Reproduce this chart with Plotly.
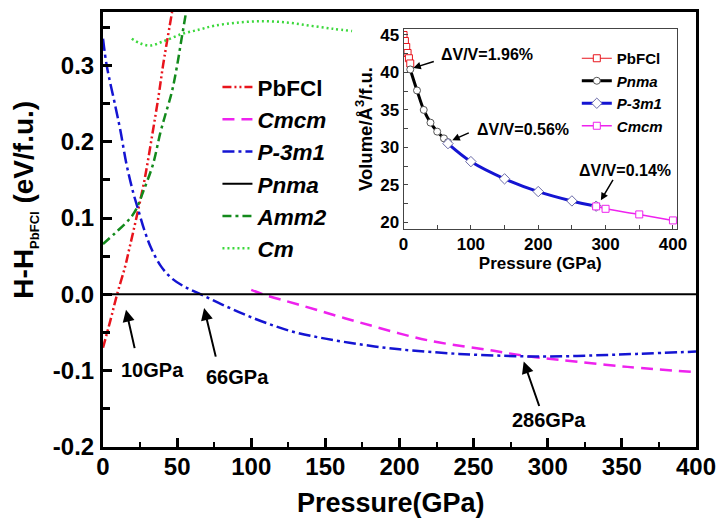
import plotly.graph_objects as go

# ---------------- main panel data (enthalpy difference vs pressure) ----------------
P_PbFCl = [0, 5, 9.5, 15, 18, 22.5, 28, 33.3, 37.5, 40.5, 46.6]
H_PbFCl = [-0.07, -0.034, 0.0, 0.037, 0.062, 0.100, 0.150, 0.210, 0.260, 0.300, 0.370]

P_Cmcm = [100, 108, 133, 173.6, 218.7, 263.7, 286, 308.8, 353.8, 400]
H_Cmcm = [0.006, 0.0, -0.014, -0.037, -0.060, -0.074, -0.081, -0.086, -0.095, -0.102]

P_P3m1 = [0, 2.5, 8.5, 11.7, 15.8, 20.3, 23.6, 28.1, 32.6, 39.4, 46.4, 55, 66, 80, 95,
          110.8, 130, 150, 175, 200, 240, 280, 300, 330, 360, 400]
H_P3m1 = [0.335, 0.300, 0.245, 0.215, 0.171, 0.134, 0.112, 0.083, 0.060, 0.036, 0.021, 0.010,
          0.000, -0.013, -0.026, -0.038, -0.050, -0.058, -0.066, -0.072, -0.078, -0.081,
          -0.0815, -0.080, -0.078, -0.075]

P_Pnma = [0, 400]
H_Pnma = [0.0, 0.0]

P_Amm2 = [0, 8, 18, 22.5, 27, 33.8, 38.7, 42, 46.4, 50, 53, 56.5]
H_Amm2 = [0.066, 0.080, 0.099, 0.112, 0.134, 0.171, 0.212, 0.235, 0.265, 0.300, 0.335, 0.375]

P_Cm = [19.4, 25, 31.8, 40, 53, 65, 75, 90, 108, 125, 140, 155, 168]
H_Cm = [0.335, 0.329, 0.326, 0.331, 0.341, 0.347, 0.352, 0.356, 0.358, 0.356, 0.352, 0.348, 0.345]

x_tickvals = [0, 50, 100, 150, 200, 250, 300, 350, 400]
x_ticktext = ["0", "50", "100", "150", "200", "250", "300", "350", "400"]
y_tickvals = [-0.2, -0.1, 0.0, 0.1, 0.2, 0.3]
y_ticktext = ["-0.2", "-0.1", "0.0", "0.1", "0.2", "0.3"]

# ---------------- inset data (volume vs pressure) ----------------
VP_PbFCl = [0, 2, 4, 6, 8, 10]
V_PbFCl = [45.0, 44.2, 43.4, 42.6, 41.9, 41.2]
VP_Pnma = [10, 20, 30, 40, 50, 60, 66]
V_Pnma = [40.4, 37.6, 35.0, 33.3, 32.1, 31.2, 30.7]
VP_P3m1 = [66, 100, 150, 200, 250, 286]
V_P3m1 = [30.5, 28.1, 25.8, 24.1, 22.85, 22.15]
VP_Cmcm = [286, 300, 350, 400]
V_Cmcm = [22.12, 21.8, 21.05, 20.25]

inset_x_tickvals = [0, 100, 200, 300, 400]
inset_y_tickvals = [20, 25, 30, 35, 40, 45]

FONT = "Arial, Liberation Sans, sans-serif"
RED = "#e8141c"
MAG = "#ee22ee"
BLUE = "#1414d2"
GREEN = "#138a1c"
LGREEN = "#3cd83c"

fig = go.Figure()

# main traces (legend order as in reference)
fig.add_trace(go.Scatter(x=P_PbFCl, y=H_PbFCl, mode="lines", name="<b>PbFCl</b>",
                         line=dict(color=RED, width=2.5, dash="9px,3px,2px,3px,2px,3px", shape="spline")))
fig.add_trace(go.Scatter(x=P_Cmcm, y=H_Cmcm, mode="lines", name="<b><i>Cmcm</i></b>",
                         line=dict(color=MAG, width=2.5, dash="12px,7px", shape="spline")))
fig.add_trace(go.Scatter(x=P_P3m1, y=H_P3m1, mode="lines", name="<b><i>P-3m1</i></b>",
                         line=dict(color=BLUE, width=2.5, dash="12px,4px,3px,4px", shape="spline")))
fig.add_trace(go.Scatter(x=P_Pnma, y=H_Pnma, mode="lines", name="<b><i>Pnma</i></b>",
                         line=dict(color="black", width=2)))
fig.add_trace(go.Scatter(x=P_Amm2, y=H_Amm2, mode="lines", name="<b><i>Amm2</i></b>",
                         line=dict(color=GREEN, width=2.5, dash="9px,4px,3px,4px", shape="spline")))
fig.add_trace(go.Scatter(x=P_Cm, y=H_Cm, mode="lines", name="<b><i>Cm</i></b>",
                         line=dict(color=LGREEN, width=2.5, dash="2px,3px", shape="spline")))

# inset traces
fig.add_trace(go.Scatter(x=VP_PbFCl, y=V_PbFCl, mode="lines+markers", name="<b>PbFCl</b>",
                         xaxis="x2", yaxis="y2", legend="legend2",
                         line=dict(color=RED, width=1),
                         marker=dict(symbol="square", size=7, color="white", line=dict(color=RED, width=1))))
fig.add_trace(go.Scatter(x=VP_Pnma, y=V_Pnma, mode="lines+markers", name="<b><i>Pnma</i></b>",
                         xaxis="x2", yaxis="y2", legend="legend2",
                         line=dict(color="black", width=3, shape="spline"),
                         marker=dict(symbol="circle", size=7, color="white", line=dict(color="#555555", width=1))))
fig.add_trace(go.Scatter(x=VP_P3m1, y=V_P3m1, mode="lines+markers", name="<b><i>P-3m1</i></b>",
                         xaxis="x2", yaxis="y2", legend="legend2",
                         line=dict(color=BLUE, width=3, shape="spline"),
                         marker=dict(symbol="diamond", size=8, color="white", line=dict(color="#6a6aa8", width=1))))
fig.add_trace(go.Scatter(x=VP_Cmcm, y=V_Cmcm, mode="lines+markers", name="<b><i>Cmcm</i></b>",
                         xaxis="x2", yaxis="y2", legend="legend2",
                         line=dict(color=MAG, width=1.5, shape="spline"),
                         marker=dict(symbol="square", size=7, color="white", line=dict(color=MAG, width=1))))

main_axis_common = dict(showline=True, linecolor="black", linewidth=3, mirror=True,
                        showgrid=False, zeroline=False, ticks="inside", ticklen=9,
                        tickwidth=2.5, tickcolor="black", automargin=False,
                        tickfont=dict(family=FONT, size=24, color="black", weight="bold"))

fig.update_layout(
    width=719, height=518,
    margin=dict(l=103, r=23, t=12, b=71, autoexpand=False),
    paper_bgcolor="white", plot_bgcolor="white",
    font=dict(family=FONT, color="black"),
    xaxis=dict(range=[0, 400], tickmode="array", tickvals=x_tickvals, ticktext=x_ticktext,
               ticklabelstandoff=-4,
               minor=dict(ticks="inside", tickmode="linear", tick0=0, dtick=25, ticklen=5,
                          tickwidth=2, tickcolor="black"),
               **main_axis_common),
    yaxis=dict(range=[-0.2, 0.37], tickmode="array", tickvals=y_tickvals, ticktext=y_ticktext,
               ticklabelstandoff=1,
               minor=dict(ticks="inside", tickmode="linear", tick0=0, dtick=0.05, ticklen=7,
                          tickwidth=2.5, tickcolor="black"),
               **main_axis_common),
    xaxis2=dict(domain=[0.5068, 0.9679], anchor="y2", range=[0, 406], automargin=False,
                tickmode="array", tickvals=inset_x_tickvals,
                showline=True, linecolor="#444444", linewidth=1, mirror=True,
                showgrid=False, zeroline=False, ticks="inside", ticklen=4, tickcolor="#444444",
                minor=dict(ticks="inside", tickmode="linear", tick0=0, dtick=50, ticklen=4,
                           tickcolor="#444444"),
                tickfont=dict(family=FONT, size=17, color="black", weight="bold"),
                title=dict(text="<b>Pressure (GPa)</b>", standoff=0,
                           font=dict(family=FONT, size=17, color="black"))),
    yaxis2=dict(domain=[0.5011, 0.9609], anchor="x2", range=[19.1, 45.8], automargin=False,
                tickmode="array", tickvals=inset_y_tickvals,
                showline=True, linecolor="#444444", linewidth=1, mirror=True,
                showgrid=False, zeroline=False, ticks="inside", ticklen=4, tickcolor="#444444",
                minor=dict(ticks="inside", tickmode="linear", tick0=20, dtick=2.5, ticklen=4,
                           tickcolor="#444444"),
                tickfont=dict(family=FONT, size=17, color="black", weight="bold"),
                title=dict(text="<b>Volume/Å<sup>3</sup>/f.u.</b>", standoff=2,
                           font=dict(family=FONT, size=18.5, color="black"))),
    legend=dict(x=0.193, y=0.876, xanchor="left", yanchor="top", bgcolor="rgba(0,0,0,0)",
                font=dict(family=FONT, size=22.5, color="black"), tracegroupgap=0),
    legend2=dict(x=0.799, y=0.931, xanchor="left", yanchor="top", bgcolor="rgba(0,0,0,0)",
                 font=dict(family=FONT, size=15, color="black"), tracegroupgap=0),
    showlegend=True,
)

annots = []
# axis titles of main panel
annots.append(dict(text="<b>Pressure(GPa)</b>", xref="paper", yref="paper", x=0.485, y=-0.1287,
                   xanchor="center", yanchor="middle",
                   showarrow=False, font=dict(family=FONT, size=27, color="black")))
annots.append(dict(text="<b>H-H<sub><span style='font-size:13px'>PbFCl</span></sub> (eV/f.u.)</b>",
                   xref="paper", yref="paper", x=-0.132, y=0.568, textangle=-90,
                   xanchor="center", yanchor="middle",
                   showarrow=False, font=dict(family=FONT, size=28, color="black")))

# transition labels (main)
labels_main = [("<b>10GPa</b>", 33.1, -0.099, 15.5, -0.020, 9, 40),
               ("<b>66GPa</b>", 90.5, -0.108, 68.2, -0.018, 12, 50),
               ("<b>286GPa</b>", 300.7, -0.165, 283.8, -0.088, 16, 46)]
for txt, tx, ty, hx, hy, ax, ay in labels_main:
    annots.append(dict(text=txt, x=tx, y=ty, xref="x", yref="y", showarrow=False,
                       font=dict(family=FONT, size=20, color="black")))
    annots.append(dict(text="", x=hx, y=hy, xref="x", yref="y", showarrow=True, ax=ax, ay=ay,
                       arrowhead=2, arrowsize=1.2, arrowwidth=2, arrowcolor="black"))

# volume-collapse labels (inset)
labels_inset = [("<b>ΔV/V=1.96%</b>", 124.6, 42.46, 14.5, 40.6, 22, -7),
                ("<b>ΔV/V=0.56%</b>", 176.9, 32.43, 72.4, 30.96, 18, -8),
                ("<b>ΔV/V=0.14%</b>", 328.9, 26.95, 293.0, 22.94, 13, -22)]
for txt, tx, ty, hx, hy, ax, ay in labels_inset:
    annots.append(dict(text=txt, x=tx, y=ty, xref="x2", yref="y2", showarrow=False,
                       font=dict(family=FONT, size=16, color="black")))
    annots.append(dict(text="", x=hx, y=hy, xref="x2", yref="y2", showarrow=True, ax=ax, ay=ay,
                       arrowhead=2, arrowsize=1, arrowwidth=1.5, arrowcolor="black"))

fig.update_layout(annotations=annots)

fig.write_html("out.html")
